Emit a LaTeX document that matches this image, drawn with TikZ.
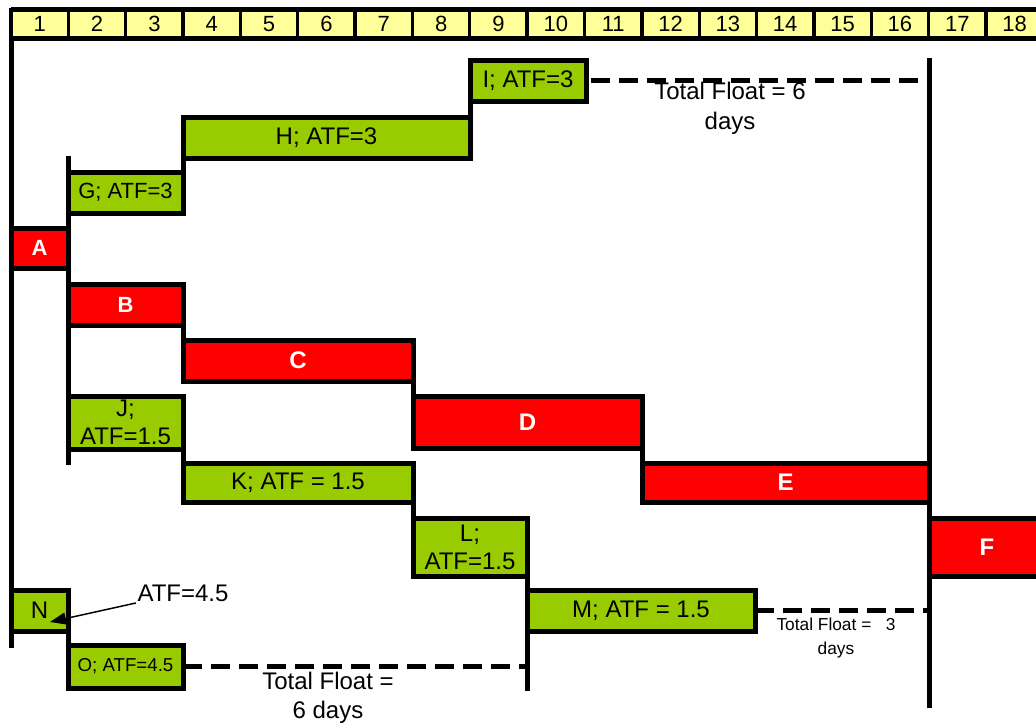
\documentclass[tikz,border=0pt]{standalone}
\usepackage{fontspec}
\setmainfont{Liberation Sans}
\usetikzlibrary{arrows.meta}
\definecolor{grn}{RGB}{153,204,0}
\definecolor{hdr}{RGB}{255,255,153}
\newcommand{\bx}[7]{\node[#2, minimum width={(#5-#3)*0.75pt}, minimum height={(#6-#4)*0.75pt}] (#1) at (#3,#4) {#7};}
\begin{document}
\begin{tikzpicture}[x=0.75pt,y=-0.75pt,
  box/.style={draw=black, line width=3.75pt, inner sep=0pt, outer sep=0pt, anchor=north west, align=center},
  gbox/.style={box, fill=grn, font=\fontsize{18}{21}\selectfont},
  gboxs/.style={box, fill=grn, font=\fontsize{16.5}{19}\selectfont},
  gboxt/.style={box, fill=grn, font=\fontsize{14}{16}\selectfont},
  rbox/.style={box, fill=red, text=white, font=\bfseries\fontsize{18}{21}\selectfont},
  rboxs/.style={box, fill=red, text=white, font=\bfseries\fontsize{16.5}{19}\selectfont},
  hcell/.style={draw=black, line width=2.5pt, fill=hdr, minimum width=57.35*0.75pt, minimum height=29*0.75pt, inner sep=0pt, outer sep=0pt, font=\fontsize{16.5}{19}\selectfont},
  conn/.style={draw=black, line width=3.75pt, line cap=rect},
  dashline/.style={draw=black, line width=3.75pt, dash pattern=on 14.25pt off 6.75pt},
  lbl/.style={align=center, inner sep=1pt}
]
\useasboundingbox (0,0) rectangle (1036,725);
% header
\foreach \i in {1,...,18} {
  \node[hcell] (h\i) at ({11+57.35*(\i-0.5)},24) {\i};
}
\draw[line width=3.75pt] (h1.north west) -- (h18.north east);
\draw[line width=3.75pt] (h1.south west) -- (h18.south east);
% coordinates for free line ends
\coordinate (v1bot) at (11,645);
\coordinate (v2top) at (68,158);
\coordinate (v2bot) at (68,462);
\coordinate (v17top) at (929,60);
\coordinate (v17bot) at (929,705);
\coordinate (ntip) at (50,622);
% lines behind boxes
\draw[conn] (h1.south west) -- (v1bot);
\draw[conn] (v2top) -- (v2bot);
\draw[conn] (v17top) -- (v17bot);
% boxes
\bx{I}{gbox}{470}{60}{586}{101}{I; ATF=3}
\bx{H}{gbox}{183}{117}{470}{158}{H; ATF=3}
\bx{G}{gboxs}{68}{172}{183}{213}{G; ATF=3}
\bx{A}{rboxs}{11}{228}{68}{268}{A}
\bx{B}{rboxs}{68}{284}{183}{325}{B}
\bx{C}{rbox}{183}{340}{413}{381}{C}
\bx{J}{gbox}{68}{396}{183}{449}{J;\\ATF=1.5}
\bx{D}{rbox}{413}{396}{642}{448}{D}
\bx{K}{gbox}{183}{463}{413}{502}{K; ATF = 1.5}
\bx{E}{rbox}{642}{463}{929}{502}{E}
\bx{L}{gbox}{413}{518}{527}{576}{L;\\ATF=1.5}
\bx{F}{rbox}{929}{518}{1045}{576}{F}
\bx{M}{gbox}{527}{590}{755}{631}{M; ATF = 1.5}
\bx{N}{gbox}{11}{590}{68}{631}{N}
\bx{O}{gboxt}{68}{645}{183}{688}{O; ATF=4.5}
% connectors
\draw[conn] (I.north west) -- (H.south east);
\draw[conn] (H.north west) -- (G.south east);
\draw[conn] (B.north east) -- (C.south west);
\draw[conn] (C.north east) -- (D.south west);
\draw[conn] (D.north east) -- (E.south west);
\draw[conn] (J.north east) -- (K.south west);
\draw[conn] (K.north east) -- (L.south west);
\draw[conn] (L.north east) -- (L.north east |- O.south);
\draw[conn] (N.north east) -- (O.south west);
% dashed float lines
\draw[dashline, dash phase=17.25pt] (I.east) -- (I.east -| v17top);
\draw[dashline] (M.east) -- (M.east -| v17top);
\draw[dashline] (O.east) -- (O.east -| L.north east);
% labels
\node[lbl, font=\fontsize{18}{22.5}\selectfont] (tf1) at (730,108) {Total Float = 6\\days};
\node[lbl, font=\fontsize{13}{18}\selectfont] (tf2) at (836,638) {Total Float = \ \ 3\\days};
\node[lbl, font=\fontsize{18}{21.75}\selectfont] (tf3) at (328,697.5) {Total Float =\\6 days};
\node[lbl, font=\fontsize{18}{21}\selectfont] (atf) at (183,593) {ATF=4.5};
\draw[line width=1.1pt, -{Triangle[length=12pt,width=9pt]}] (atf.south west) -- (ntip);
\end{tikzpicture}
\end{document}
